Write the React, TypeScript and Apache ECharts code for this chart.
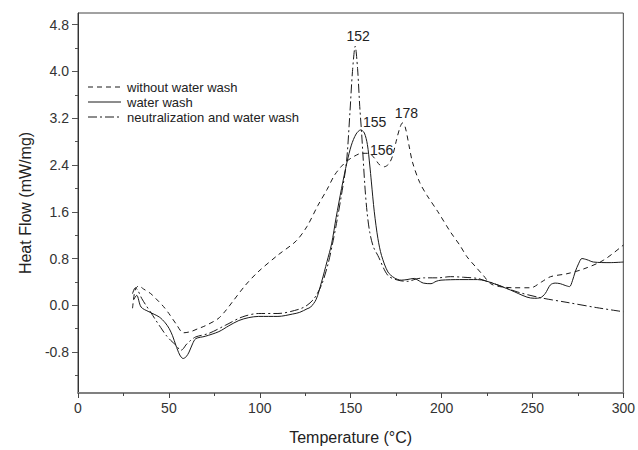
import React, { useEffect, useRef } from "react";
import * as echarts from "echarts";

const seriesNames = ["without water wash", "water wash", "neutralization and water wash"];

const withoutWash: number[][] = [
  [30, -0.05], [31, 0.2], [32, 0.3], [33.5, 0.33], [36, 0.28], [40, 0.2], [43, 0.11], [47, -0.02],
  [50, -0.14], [54, -0.32], [58, -0.47], [62, -0.45], [66, -0.4], [70, -0.35], [77, -0.23],
  [81, -0.1], [85, 0.06], [92, 0.34], [99, 0.57], [110, 0.86], [120, 1.1], [126, 1.35],
  [132, 1.71], [137, 1.98], [141, 2.22], [145, 2.38], [148.5, 2.48], [152, 2.55], [156, 2.6],
  [160, 2.6], [163, 2.52], [166, 2.4], [168.5, 2.37], [171, 2.42], [173, 2.55], [175, 2.8],
  [177, 3.03], [178.5, 3.12], [180, 3.05], [182, 2.75], [184, 2.45], [188, 2.1], [192, 1.88],
  [198, 1.6], [205, 1.25], [210, 1.03], [214, 0.83], [219, 0.65], [223, 0.51], [227, 0.37],
  [232, 0.32], [240, 0.3], [249, 0.3], [255, 0.4], [260, 0.49], [269, 0.54], [278, 0.62],
  [289, 0.77], [300, 1.03],
];

const waterWash: number[][] = [
  [30.5, 0.09], [32.3, 0.17], [34.7, -0.03], [39, -0.11], [44.7, -0.2], [48, -0.3], [50.2, -0.4],
  [52, -0.52], [53.8, -0.68], [56, -0.85], [57.8, -0.91], [59.5, -0.88], [61.1, -0.8], [63, -0.66],
  [64.8, -0.57], [70, -0.53], [77.5, -0.45], [83, -0.35], [88.5, -0.26], [94, -0.21], [99.4, -0.19],
  [110, -0.19], [118, -0.15], [122, -0.12], [126, -0.06], [128, -0.03], [131, 0.1], [134, 0.4],
  [137, 0.75], [139.5, 1.05], [142, 1.5], [145, 2.0], [148, 2.45], [150.4, 2.74], [153, 2.93],
  [155.5, 3.0], [157.5, 2.95], [159.2, 2.75], [160.5, 2.4], [161.4, 2.11], [163, 1.6], [165, 1.14],
  [167, 0.85], [170.5, 0.57], [174, 0.47], [177.8, 0.43], [181, 0.44], [185, 0.46], [187, 0.43],
  [190, 0.38], [194.2, 0.37], [197, 0.41], [199.7, 0.43], [210, 0.44], [219.8, 0.44], [224, 0.42],
  [228.9, 0.37], [238, 0.26], [247, 0.14], [251, 0.12], [254.4, 0.13], [257, 0.2], [259.9, 0.35],
  [262.5, 0.38], [265.3, 0.37], [268, 0.34], [270.4, 0.32], [272, 0.42], [273.5, 0.57],
  [275.5, 0.72], [277.2, 0.8], [280, 0.78], [283.6, 0.74], [292.7, 0.73], [300, 0.74],
];

const neutralization: number[][] = [
  [30, 0.2], [31.5, 0.3], [33, 0.25], [35, 0.12], [37.4, 0.0], [40, -0.12], [42.9, -0.26],
  [45.5, -0.38], [48.4, -0.51], [51, -0.6], [53.8, -0.68], [56.6, -0.77], [58, -0.74],
  [59.3, -0.68], [62, -0.6], [64.8, -0.54], [72, -0.48], [81.2, -0.34], [90.3, -0.2],
  [99.4, -0.14], [110, -0.14], [121.3, -0.07], [126, 0.0], [130, 0.12], [134, 0.35],
  [137.5, 0.7], [140, 1.05], [142.2, 1.4], [145, 1.9], [147.7, 2.45], [149.6, 3.3], [151, 4.0],
  [152.5, 4.43], [153.8, 4.05], [155, 3.4], [156, 2.96], [157.8, 2.05], [159, 1.6], [160.5, 1.25],
  [162.5, 1.0], [165, 0.85], [170.5, 0.51], [176, 0.43], [181.5, 0.41], [186, 0.45],
  [190.6, 0.47], [198, 0.47], [205, 0.49], [212, 0.48], [219.8, 0.46], [224, 0.42], [229, 0.37],
  [241.6, 0.23], [254.4, 0.13], [269, 0.05], [285.4, -0.04], [300, -0.11],
];

const yLabelValues = [-0.8, 0, 0.8, 1.6, 2.4, 3.2, 4.0, 4.8];
const yMinorValues = [-1.2, -0.4, 0.4, 1.2, 2.0, 2.8, 3.6, 4.4];

const peakLabels = [
  { series: 2, text: "152", coord: [152.5, 4.43], offset: [3, -10] },
  { series: 1, text: "155", coord: [155.5, 3.0], offset: [14, -8] },
  { series: 0, text: "178", coord: [178.5, 3.12], offset: [4, -10] },
  { series: 0, text: "156", coord: [156, 2.6], offset: [20, -3] },
];

const FONT = "Liberation Sans, Arial, sans-serif";
const LINE_COLOR = "#1a1a1a";

export default function App() {
  const ref = useRef<HTMLDivElement>(null);
  useEffect(() => {
    if (!ref.current) return;
    const chart = echarts.init(ref.current, undefined, { renderer: "svg" });
    const dataSets = [withoutWash, waterWash, neutralization];
    const dashTypes: any[] = [[5, 4], "solid", [9, 3, 2, 3]];
    const series = dataSets.map((d, i) => ({
      name: seriesNames[i],
      type: "line",
      data: d,
      showSymbol: false,
      symbol: "none",
      smooth: 0.3,
      lineStyle: { color: LINE_COLOR, width: 1, type: dashTypes[i] },
      itemStyle: { color: LINE_COLOR },
      markPoint: {
        symbol: "circle",
        symbolSize: 0,
        data: peakLabels
          .filter((p) => p.series === i)
          .map((p) => ({
            coord: p.coord,
            label: {
              show: true,
              formatter: p.text,
              position: "inside",
              offset: p.offset,
              fontSize: 14,
              color: "#222",
              fontFamily: FONT,
            },
          })),
      },
    }));

    const legendRowsY = [87, 102, 117];
    const legendGraphics: any[] = [];
    seriesNames.forEach((name, i) => {
      const y = legendRowsY[i];
      legendGraphics.push({
        type: "line",
        shape: { x1: 88, y1: y, x2: 121, y2: y },
        style: {
          stroke: LINE_COLOR,
          lineWidth: 1,
          lineDash: Array.isArray(dashTypes[i]) ? dashTypes[i] : null,
        },
        silent: true,
      });
      legendGraphics.push({
        type: "text",
        x: 127,
        y: y,
        style: {
          text: name,
          fontSize: 13,
          fill: "#222",
          fontFamily: FONT,
          verticalAlign: "middle",
          align: "left",
        },
        silent: true,
      });
    });

    chart.setOption({
      animation: false,
      backgroundColor: "#fff",
      textStyle: { fontFamily: FONT },
      grid: {
        left: 78,
        right: 11,
        top: 13,
        bottom: 55,
        show: true,
        borderColor: "#444",
        borderWidth: 1,
        containLabel: false,
      },
      graphic: legendGraphics,
      xAxis: {
        type: "value",
        min: 0,
        max: 300,
        interval: 50,
        name: "Temperature (°C)",
        nameLocation: "middle",
        nameGap: 36,
        nameTextStyle: { fontSize: 16, color: "#222", fontFamily: FONT },
        axisLine: { show: true, onZero: false, lineStyle: { color: "#808080", width: 2 } },
        axisTick: { show: true, inside: false, length: 5, lineStyle: { color: "#444" } },
        minorTick: { show: true, splitNumber: 2, length: 3, lineStyle: { color: "#444" } },
        axisLabel: { fontSize: 14, color: "#333", margin: 8, fontFamily: FONT },
        splitLine: { show: false },
      },
      yAxis: [
        {
          type: "value",
          min: -1.5,
          max: 5.0,
          name: "Heat Flow (mW/mg)",
          nameLocation: "middle",
          nameGap: 42,
          nameTextStyle: { fontSize: 16, color: "#222", fontFamily: FONT },
          axisLine: { show: true, onZero: false, lineStyle: { color: "#333", width: 1 } },
          axisTick: { show: true, inside: false, length: 6, customValues: yLabelValues, lineStyle: { color: "#555" } },
          axisLabel: {
            fontSize: 14,
            color: "#333",
            margin: 9,
            fontFamily: FONT,
            customValues: yLabelValues,
            formatter: (v: number) => v.toFixed(1),
          },
          splitLine: { show: false },
        },
        {
          type: "value",
          min: -1.5,
          max: 5.0,
          position: "left",
          axisLine: { show: false, onZero: false },
          axisTick: { show: true, inside: false, length: 3, customValues: yMinorValues, lineStyle: { color: "#555" } },
          axisLabel: { show: false, customValues: yMinorValues },
          splitLine: { show: false },
        },
      ],
      series,
    });
    return () => chart.dispose();
  }, []);
  return <div ref={ref} style={{ width: 638, height: 450, position: "absolute", left: 0, top: 0 }} />;
}
